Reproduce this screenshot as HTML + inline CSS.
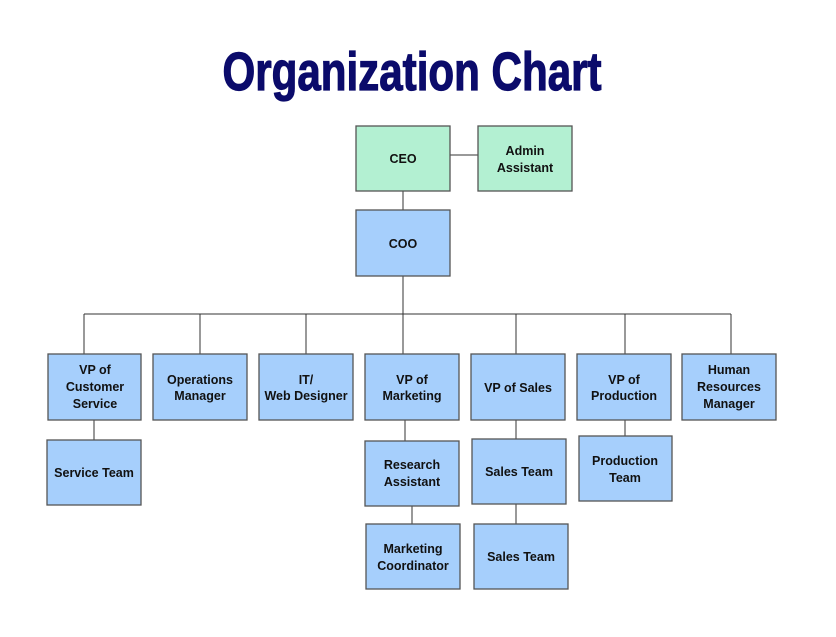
<!DOCTYPE html>
<html><head><style>body{margin:0;background:#fff}svg{display:block}</style></head><body>
<svg width="836" height="637" xmlns="http://www.w3.org/2000/svg" font-family="Liberation Sans, Arial, sans-serif">
<text x="412" y="90" text-anchor="middle" font-size="54" font-weight="bold" fill="#0b0b6b" stroke="#0b0b6b" stroke-width="1.2" transform="translate(412 0) scale(0.78 1) translate(-412 0)" textLength="486" lengthAdjust="spacingAndGlyphs">Organization Chart</text>
<g stroke="#333" stroke-width="1" fill="none">
<line x1="450" y1="155" x2="478" y2="155"/>
<line x1="403" y1="191" x2="403" y2="210"/>
<line x1="403" y1="276" x2="403" y2="314"/>
<line x1="84" y1="314" x2="731" y2="314"/>
<line x1="84" y1="314" x2="84" y2="354"/>
<line x1="200" y1="314" x2="200" y2="354"/>
<line x1="306" y1="314" x2="306" y2="354"/>
<line x1="403" y1="314" x2="403" y2="354"/>
<line x1="516" y1="314" x2="516" y2="354"/>
<line x1="625" y1="314" x2="625" y2="354"/>
<line x1="731" y1="314" x2="731" y2="354"/>
<line x1="94" y1="420" x2="94" y2="440"/>
<line x1="405" y1="420" x2="405" y2="441"/>
<line x1="412" y1="506" x2="412" y2="524"/>
<line x1="516" y1="420" x2="516" y2="439"/>
<line x1="516" y1="504" x2="516" y2="524"/>
<line x1="625" y1="420" x2="625" y2="436"/>
</g>
<g stroke="#555" stroke-width="1.3">
<rect x="356" y="126" width="94" height="65" fill="#b3f0d2"/>
<rect x="478" y="126" width="94" height="65" fill="#b3f0d2"/>
<g fill="#a6cffc">
<rect x="356" y="210" width="94" height="66"/>
<rect x="48" y="354" width="93" height="66"/>
<rect x="153" y="354" width="94" height="66"/>
<rect x="259" y="354" width="94" height="66"/>
<rect x="365" y="354" width="94" height="66"/>
<rect x="471" y="354" width="94" height="66"/>
<rect x="577" y="354" width="94" height="66"/>
<rect x="682" y="354" width="94" height="66"/>
<rect x="47" y="440" width="94" height="65"/>
<rect x="365" y="441" width="94" height="65"/>
<rect x="366" y="524" width="94" height="65"/>
<rect x="472" y="439" width="94" height="65"/>
<rect x="474" y="524" width="94" height="65"/>
<rect x="579" y="436" width="93" height="65"/>
</g></g>
<g font-size="12.5" font-weight="bold" fill="#111" text-anchor="middle">
<text x="403" y="163">CEO</text>
<text x="525" y="155">Admin</text><text x="525" y="172">Assistant</text>
<text x="403" y="248">COO</text>
<text x="95" y="374">VP of</text><text x="95" y="391">Customer</text><text x="95" y="408">Service</text>
<text x="200" y="384">Operations</text><text x="200" y="400">Manager</text>
<text x="306" y="384">IT/</text><text x="306" y="400">Web Designer</text>
<text x="412" y="384">VP of</text><text x="412" y="400">Marketing</text>
<text x="518" y="392">VP of Sales</text>
<text x="624" y="384">VP of</text><text x="624" y="400">Production</text>
<text x="729" y="374">Human</text><text x="729" y="391">Resources</text><text x="729" y="408">Manager</text>
<text x="94" y="477">Service Team</text>
<text x="412" y="469">Research</text><text x="412" y="486">Assistant</text>
<text x="413" y="553">Marketing</text><text x="413" y="570">Coordinator</text>
<text x="519" y="476">Sales Team</text>
<text x="521" y="561">Sales Team</text>
<text x="625" y="465">Production</text><text x="625" y="482">Team</text>
</g>
</svg>
</body></html>
